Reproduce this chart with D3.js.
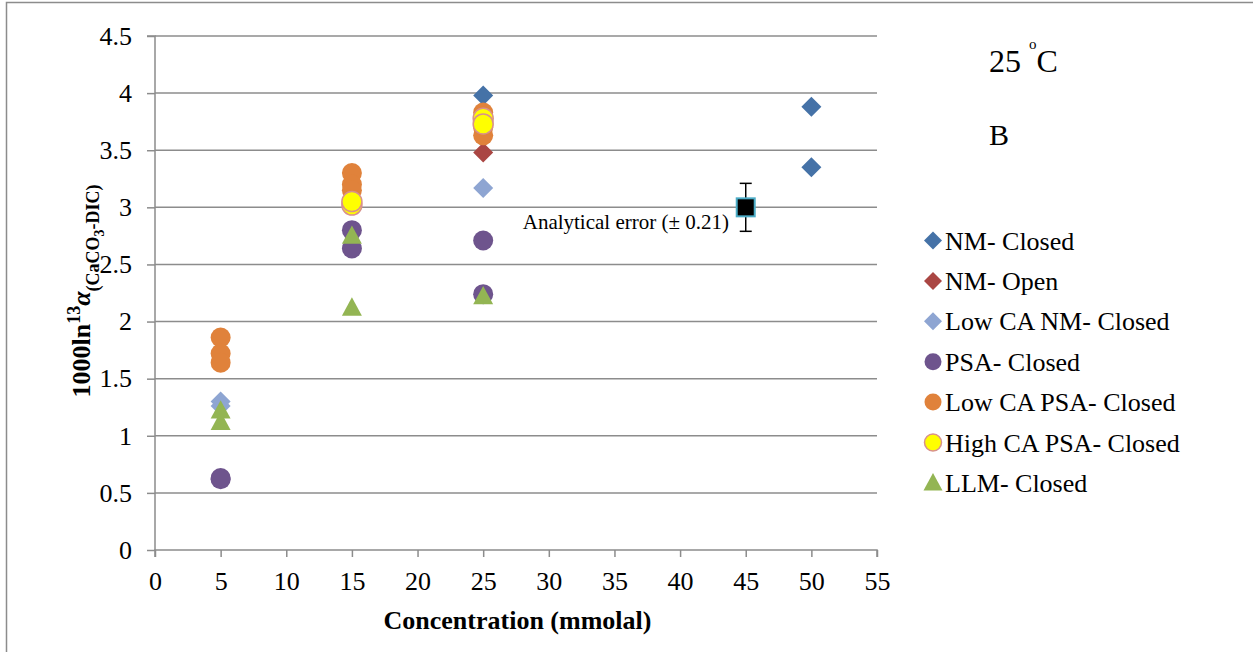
<!DOCTYPE html>
<html><head><meta charset="utf-8">
<script src="https://cdn.jsdelivr.net/npm/d3@7"></script>
<style>body{margin:0;background:#fff}svg{display:block}text{font-family:"Liberation Serif","Times New Roman",serif}</style>
</head><body><svg id="c" width="1253" height="652"></svg>
<script>
const xTicks = [0,5,10,15,20,25,30,35,40,45,50,55];
const yTicks = [0,0.5,1,1.5,2,2.5,3,3.5,4,4.5];
const seriesNames = ["NM- Closed","NM- Open","Low CA NM- Closed","PSA- Closed","Low CA PSA- Closed","High CA PSA- Closed","LLM- Closed"];
const nmClosed = [[25,3.98],[50,3.88],[50,3.35]];
const nmOpen = [[25,3.48]];
const lowCaNmClosed = [[5,1.30],[5,1.26],[25,3.17]];
const psaClosed = [[5,0.63],[5,0.62],[15,2.80],[15,2.64],[25,2.71],[25,2.24]];
const lowCaPsaClosed = [[5,1.86],[5,1.72],[5,1.64],[15,3.30],[15,3.20],[15,3.15],[25,3.83],[25,3.78],[25,3.70],[25,3.63]];
const highCaPsaClosed = [[15,3.02],[15,3.05],[25,3.78],[25,3.73]];
const llmClosed = [[5,1.22],[5,1.12],[15,2.75],[15,2.12],[25,2.22]];
const errorPoint = [[45,3.0,0.21]];

const svg = d3.select("#c");
const x = d3.scaleLinear().domain([0,55]).range([155,877]);
const y = d3.scaleLinear().domain([0,4.5]).range([550,36]);
const grid = "#8c8c8c";
const FS = 26;

// outer frame (left and top)
svg.append("path").attr("d","M6.5,652 V2.5 H1253").attr("fill","none").attr("stroke","#8c8c8c").attr("stroke-width",1.5);

// gridlines
svg.append("g").selectAll("line").data(yTicks.filter(d=>d>0)).join("line")
  .attr("x1",x(0)).attr("x2",x(55)).attr("y1",d=>y(d)).attr("y2",d=>y(d))
  .attr("stroke",grid).attr("stroke-width",1.5);

// axes
const xa = svg.append("g").attr("transform",`translate(0,${y(0)})`)
  .call(d3.axisBottom(x).tickValues(xTicks).tickSize(7).tickFormat(d3.format("d")));
const ya = svg.append("g").attr("transform",`translate(${x(0)},0)`)
  .call(d3.axisLeft(y).tickValues(yTicks).tickSize(8).tickFormat(d=>String(d)));
[xa,ya].forEach(a=>{
  a.selectAll("path,line").attr("stroke",grid).attr("stroke-width",1.5);
  a.selectAll("text").attr("font-size",FS).attr("fill","#000").attr("font-family","Liberation Serif");
});
xa.select(".domain").attr("d",`M${x(0)},7V0H${x(55)}V7`);
ya.select(".domain").attr("d",`M-8,${y(4.5)}H0V${y(0)}`);
xa.selectAll("text").attr("y",10).attr("dy","30px");
ya.selectAll("text").attr("dx","-12px");

// markers
function diamondPath(r){return `M0,${-r}L${r},0L0,${r}L${-r},0Z`;}
function triPath(r){return `M0,${-r}L${r*0.95},${r*0.75}L${-r*0.95},${r*0.75}Z`;}
const styles = [
  {data:nmClosed, shape:"d", fill:"#4572a7", stroke:"none"},
  {data:nmOpen, shape:"d", fill:"#aa4643", stroke:"none"},
  {data:lowCaNmClosed, shape:"d", fill:"#8ea5d2", stroke:"none"},
  {data:psaClosed, shape:"c", fill:"#6e548d", stroke:"none"},
  {data:lowCaPsaClosed, shape:"c", fill:"#e0823b", stroke:"none"},
  {data:highCaPsaClosed, shape:"c", fill:"#ffff00", stroke:"#d8918c"},
  {data:llmClosed, shape:"t", fill:"#93b553", stroke:"none"}
];
function drawMarker(g, s, r){
  if(s.shape==="c") g.append("circle").attr("r",r).attr("fill",s.fill).attr("stroke",s.stroke).attr("stroke-width",1.5);
  else if(s.shape==="d") g.append("path").attr("d",diamondPath(r)).attr("fill",s.fill);
  else g.append("path").attr("d",triPath(r)).attr("fill",s.fill);
}
styles.forEach(s=>{
  s.data.forEach(p=>{
    const g = svg.append("g").attr("transform",`translate(${x(p[0])},${y(p[1])})`);
    drawMarker(g, s, s.shape==="c"?10:(s.shape==="d"?10:10.5));
  });
});

// analytical error point
errorPoint.forEach(p=>{
  const cx = x(p[0]);
  svg.append("line").attr("x1",cx).attr("x2",cx).attr("y1",y(p[1]+p[2])).attr("y2",y(p[1]-p[2])).attr("stroke","#000").attr("stroke-width",1.5);
  [p[1]+p[2],p[1]-p[2]].forEach(v=>svg.append("line").attr("x1",cx-6).attr("x2",cx+6).attr("y1",y(v)).attr("y2",y(v)).attr("stroke","#000").attr("stroke-width",1.5));
  svg.append("rect").attr("x",cx-9).attr("y",y(p[1])-9).attr("width",18).attr("height",18).attr("fill","#000").attr("stroke","#4bacc6").attr("stroke-width",2);
});
svg.append("text").attr("x",729).attr("y",229).attr("text-anchor","end").attr("font-size",21).text("Analytical error (± 0.21)");

// annotations
const t25 = svg.append("text").attr("x",989).attr("y",72).attr("font-size",32);
t25.append("tspan").text("25 ");
t25.append("tspan").attr("font-size",15).attr("dy",-23).text("o");
t25.append("tspan").attr("dy",23).text("C");
svg.append("text").attr("x",989).attr("y",145).attr("font-size",30).text("B");

// legend
const lg = svg.append("g");
seriesNames.forEach((n,i)=>{
  const yy = 240.5 + i*40.4;
  const g = lg.append("g").attr("transform",`translate(933,${yy})`);
  const s = styles[i];
  drawMarker(g, s, s.shape==="c"?8.5:(s.shape==="d"?9:10));
  lg.append("text").attr("x",945).attr("y",yy+9).attr("font-size",FS).text(n);
});

// axis titles
svg.append("text").attr("x",(380+655)/2).attr("y",629).attr("text-anchor","middle").attr("font-size",FS).attr("font-weight","bold").text("Concentration (mmolal)");
const yt = svg.append("text").attr("transform","translate(90,291) rotate(-90)").attr("text-anchor","middle").attr("font-size",FS).attr("font-weight","bold");
yt.append("tspan").text("1000ln");
yt.append("tspan").attr("dy",-10).attr("font-size",18).text("13");
yt.append("tspan").attr("dy",10).attr("font-style","italic").text("α");
yt.append("tspan").attr("dy",9).attr("font-size",18).text("(CaCO");
yt.append("tspan").attr("dy",5).attr("font-size",14).text("3");
yt.append("tspan").attr("dy",-5).attr("font-size",18).text("-DIC)");
</script></body></html>
